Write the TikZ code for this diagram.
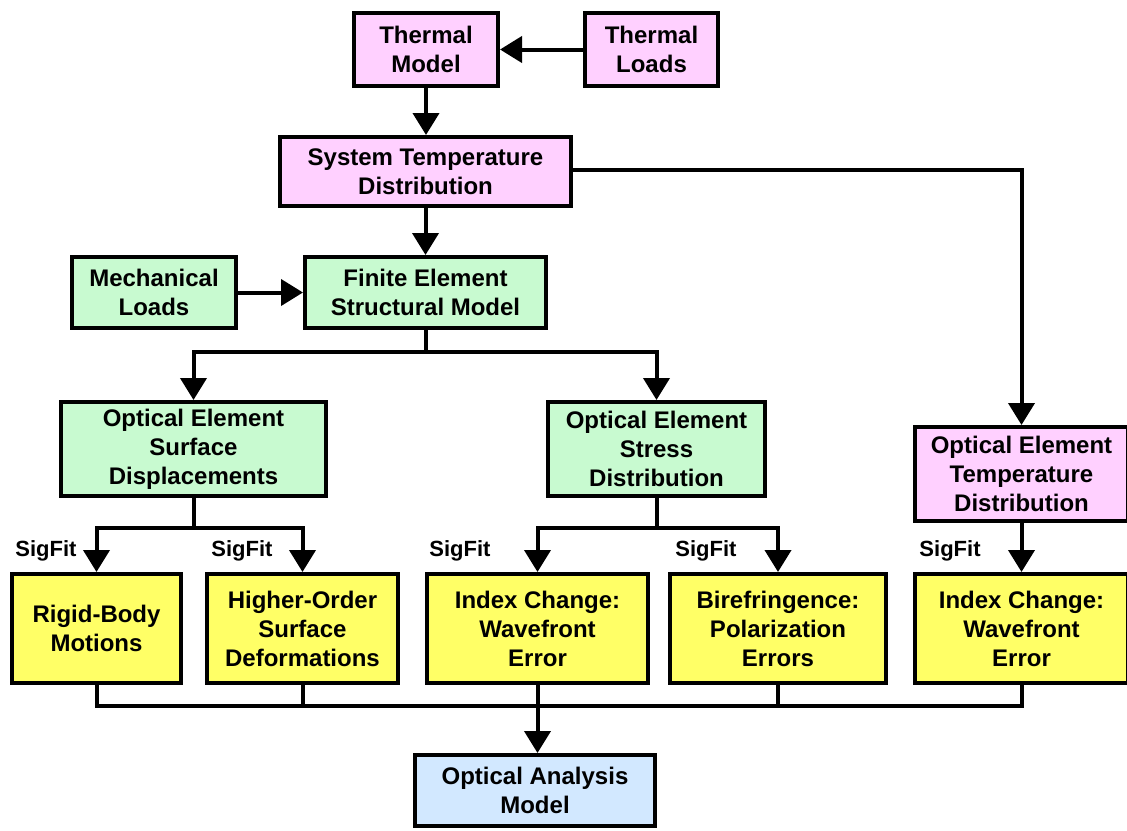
\documentclass[tikz,border=0pt]{standalone}
\usepackage{fontspec}
\setmainfont{Liberation Sans}
\usetikzlibrary{arrows.meta}
\definecolor{pinkf}{RGB}{255,208,255}
\definecolor{greenf}{RGB}{200,250,208}
\definecolor{yellowf}{RGB}{255,255,102}
\definecolor{bluef}{RGB}{210,232,255}
\begin{document}
\begin{tikzpicture}[x=1pt,y=-1pt,
  box/.style={draw=black, line width=4pt, inner sep=0pt, align=center,
    font=\fontsize{24}{29}\selectfont\bfseries},
  pinkbox/.style={box, fill=pinkf},
  greenbox/.style={box, fill=greenf},
  yellowbox/.style={box, fill=yellowf},
  bluebox/.style={box, fill=bluef},
  conn/.style={line width=4pt, line join=miter},
  arr/.style={conn, -{Triangle[length=22pt,width=26pt]}},
  sig/.style={font=\fontsize{22}{26}\selectfont\bfseries, inner sep=0pt}]
\useasboundingbox (0,0) rectangle (1127,830);
\fill[white] (0,0) rectangle (1127,830);
% boxes
\node[pinkbox, minimum width=144pt, minimum height=73pt] (tm) at (426,49.5) {Thermal\\Model};
\node[pinkbox, minimum width=133pt, minimum height=73pt] (tl) at (651.5,49.5) {Thermal\\Loads};
\node[pinkbox, minimum width=291pt, minimum height=69pt] (st) at (425.5,171.5) {System Temperature\\Distribution};
\node[greenbox, minimum width=164pt, minimum height=71pt] (ml) at (154,292.5) {Mechanical\\Loads};
\node[greenbox, minimum width=241pt, minimum height=71pt] (fe) at (425.5,292.5) {Finite Element\\Structural Model};
\node[greenbox, minimum width=265pt, minimum height=94pt] (sd) at (193.5,449) {Optical Element\\Surface\\Displacements};
\node[greenbox, minimum width=217pt, minimum height=94pt] (ss) at (656.5,449) {Optical Element\\Stress\\Distribution};
\node[pinkbox, minimum width=213pt, minimum height=94pt] (td) at (1021.5,474) {Optical Element\\Temperature\\Distribution};
\node[yellowbox, minimum width=169pt, minimum height=109pt] (rb) at (96.5,628.5) {Rigid-Body\\Motions};
\node[yellowbox, minimum width=191pt, minimum height=109pt] (ho) at (302.5,628.5) {Higher-Order\\Surface\\Deformations};
\node[yellowbox, minimum width=221pt, minimum height=109pt] (ia) at (537.5,628.5) {Index Change:\\Wavefront\\Error};
\node[yellowbox, minimum width=216pt, minimum height=109pt] (bf) at (778,628.5) {Birefringence:\\Polarization\\Errors};
\node[yellowbox, minimum width=213pt, minimum height=109pt] (ib) at (1021.5,628.5) {Index Change:\\Wavefront\\Error};
\node[bluebox, minimum width=240pt, minimum height=71pt] (oa) at (535,790.5) {Optical Analysis\\Model};
% SigFit labels
\node[sig] (s1) at (46,551) {SigFit};
\node[sig] (s2) at (242,551) {SigFit};
\node[sig] (s3) at (460,551) {SigFit};
\node[sig] (s4) at (706,551) {SigFit};
\node[sig] (s5) at (950,551) {SigFit};
% top connectors
\draw[arr] (tl.west) -- (tm.east);
\draw[arr] (tm.south) -- (tm.south |- st.north);
\draw[arr] (st.east |- 0,170) -| (td.north);
\draw[arr] (st.south) -- (fe.north);
\draw[arr] (ml.east) -- (fe.west);
% FE split
\coordinate (j1) at (425.5,352);
\draw[conn] (fe.south) -- (j1);
\draw[arr] (j1) -| (sd.north);
\draw[arr] (j1) -| (ss.north);
% surface displacement split
\coordinate (j2) at (193.5,528);
\draw[conn] (sd.south) -- (j2);
\draw[arr] (j2) -| (rb.north);
\draw[arr] (j2) -| (ho.north);
% stress split
\coordinate (j3) at (656.5,528);
\draw[conn] (ss.south) -- (j3);
\draw[arr] (j3) -| (ia.north);
\draw[arr] (j3) -| (bf.north);
% temperature
\draw[arr] (td.south) -- (ib.north);
% bottom bus
\coordinate (b1) at (96.5,706);
\coordinate (b5) at (1021.5,706);
\draw[conn] (rb.south) -- (b1) -- (b5) -- (ib.south);
\draw[conn] (ho.south) -- (ho.south |- b1);
\draw[conn] (bf.south) -- (bf.south |- b1);
\draw[arr] (ia.south) -- (ia.south |- oa.north);
\end{tikzpicture}
\end{document}
